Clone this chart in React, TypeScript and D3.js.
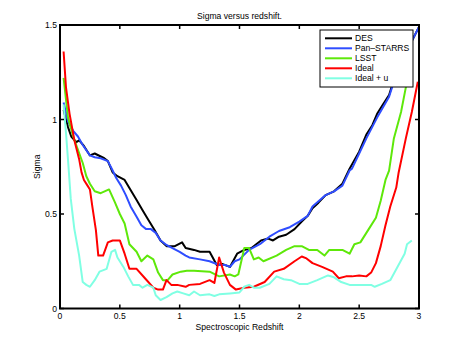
import React from "react";
import * as d3 from "d3";

// [redshift, sigma] pairs
const des: [number, number][] = [
  [0.03, 1.05], [0.067, 0.96], [0.094, 0.91], [0.136, 0.88], [0.16, 0.89], [0.2, 0.86],
  [0.25, 0.81], [0.29, 0.82], [0.37, 0.795], [0.4, 0.78], [0.44, 0.72], [0.48, 0.7],
  [0.54, 0.68], [0.58, 0.637], [0.64, 0.574], [0.69, 0.52], [0.73, 0.477], [0.79, 0.415],
  [0.84, 0.36], [0.89, 0.33], [0.96, 0.33], [1.02, 0.35], [1.05, 0.32], [1.12, 0.31],
  [1.17, 0.3], [1.25, 0.3], [1.31, 0.23], [1.36, 0.235], [1.42, 0.22], [1.48, 0.29],
  [1.54, 0.31], [1.6, 0.32], [1.68, 0.36], [1.74, 0.37], [1.78, 0.36], [1.83, 0.38],
  [1.89, 0.39], [1.96, 0.42], [2.02, 0.46], [2.07, 0.49], [2.11, 0.53], [2.16, 0.56],
  [2.22, 0.6], [2.29, 0.62], [2.36, 0.66], [2.42, 0.74], [2.5, 0.83], [2.56, 0.92],
  [2.61, 0.97], [2.65, 1.03], [2.7, 1.08], [2.75, 1.13], [2.79, 1.21], [2.83, 1.29],
  [2.88, 1.34], [2.92, 1.39], [2.96, 1.44], [3.0, 1.49],
];
const panStarrs: [number, number][] = [
  [0.03, 1.09], [0.067, 0.99], [0.11, 0.94], [0.15, 0.91], [0.19, 0.865], [0.25, 0.81],
  [0.29, 0.8], [0.34, 0.795], [0.4, 0.78], [0.44, 0.73], [0.47, 0.69], [0.51, 0.65],
  [0.55, 0.6], [0.59, 0.54], [0.64, 0.486], [0.68, 0.44], [0.72, 0.42], [0.76, 0.42],
  [0.8, 0.4], [0.84, 0.36], [0.89, 0.336], [0.94, 0.32], [1.0, 0.3], [1.05, 0.28],
  [1.08, 0.27], [1.17, 0.26], [1.25, 0.25], [1.33, 0.23], [1.38, 0.23], [1.42, 0.22],
  [1.46, 0.25], [1.5, 0.26], [1.58, 0.31], [1.67, 0.34], [1.75, 0.38], [1.83, 0.41],
  [1.92, 0.43], [2.0, 0.46], [2.07, 0.49], [2.11, 0.54], [2.22, 0.6], [2.29, 0.62],
  [2.36, 0.65], [2.42, 0.73], [2.44, 0.74], [2.5, 0.82], [2.56, 0.9], [2.65, 1.01],
  [2.75, 1.12], [2.79, 1.2], [2.83, 1.29], [2.92, 1.39], [3.0, 1.49],
];
const lsst: [number, number][] = [
  [0.03, 1.22], [0.067, 1.01], [0.11, 0.91], [0.15, 0.84], [0.19, 0.77], [0.22, 0.7],
  [0.25, 0.66], [0.29, 0.62], [0.34, 0.61], [0.41, 0.63], [0.46, 0.56], [0.5, 0.5],
  [0.54, 0.45], [0.58, 0.34], [0.64, 0.3], [0.68, 0.25], [0.73, 0.28], [0.78, 0.26],
  [0.82, 0.19], [0.86, 0.15], [0.9, 0.15], [0.94, 0.18], [1.01, 0.195], [1.06, 0.2],
  [1.12, 0.2], [1.25, 0.195], [1.33, 0.17], [1.42, 0.18], [1.46, 0.17], [1.49, 0.18],
  [1.54, 0.32], [1.58, 0.32], [1.62, 0.26], [1.66, 0.27], [1.7, 0.25], [1.81, 0.28],
  [1.89, 0.31], [1.96, 0.33], [2.02, 0.33], [2.08, 0.31], [2.15, 0.31], [2.21, 0.28],
  [2.25, 0.31], [2.36, 0.31], [2.42, 0.29], [2.46, 0.34], [2.51, 0.35], [2.58, 0.42],
  [2.64, 0.48], [2.68, 0.57], [2.72, 0.68], [2.75, 0.73], [2.79, 0.9], [2.85, 1.04],
  [2.89, 1.17], [2.93, 1.23],
];
const ideal: [number, number][] = [
  [0.03, 1.36], [0.05, 1.17], [0.08, 1.03], [0.12, 0.89], [0.16, 0.79], [0.18, 0.72],
  [0.2, 0.68], [0.23, 0.65], [0.25, 0.63], [0.27, 0.54], [0.3, 0.415], [0.32, 0.28],
  [0.36, 0.28], [0.4, 0.35], [0.44, 0.36], [0.5, 0.36], [0.54, 0.29], [0.58, 0.21],
  [0.64, 0.21], [0.71, 0.16], [0.78, 0.11], [0.82, 0.1], [0.86, 0.1], [0.89, 0.15],
  [0.93, 0.125], [0.98, 0.125], [1.05, 0.115], [1.08, 0.125], [1.17, 0.13], [1.25, 0.15],
  [1.29, 0.135], [1.33, 0.27], [1.37, 0.19], [1.42, 0.125], [1.47, 0.1], [1.54, 0.11],
  [1.62, 0.115], [1.71, 0.14], [1.79, 0.195], [1.87, 0.21], [1.96, 0.25], [2.02, 0.275],
  [2.06, 0.265], [2.11, 0.24], [2.19, 0.22], [2.28, 0.195], [2.33, 0.16], [2.39, 0.17],
  [2.44, 0.17], [2.5, 0.175], [2.56, 0.17], [2.6, 0.19], [2.64, 0.24], [2.68, 0.33],
  [2.72, 0.44], [2.76, 0.54], [2.81, 0.64], [2.83, 0.72], [2.89, 0.9], [2.94, 1.04],
  [2.99, 1.2],
];
const idealU: [number, number][] = [
  [0.03, 1.08], [0.05, 0.93], [0.07, 0.76], [0.09, 0.58], [0.12, 0.42], [0.16, 0.28],
  [0.19, 0.14], [0.22, 0.125], [0.25, 0.115], [0.29, 0.15], [0.33, 0.195], [0.39, 0.21],
  [0.43, 0.3], [0.46, 0.31], [0.48, 0.27], [0.53, 0.22], [0.57, 0.17], [0.61, 0.125],
  [0.66, 0.125], [0.69, 0.11], [0.73, 0.125], [0.78, 0.11], [0.8, 0.07], [0.84, 0.045],
  [0.89, 0.06], [0.94, 0.08], [0.98, 0.09], [1.03, 0.08], [1.08, 0.07], [1.12, 0.09],
  [1.17, 0.07], [1.25, 0.075], [1.29, 0.066], [1.33, 0.075], [1.42, 0.08], [1.5, 0.085],
  [1.54, 0.115], [1.58, 0.125], [1.62, 0.11], [1.67, 0.11], [1.75, 0.13], [1.81, 0.17],
  [1.87, 0.155], [1.93, 0.15], [2.0, 0.13], [2.07, 0.13], [2.15, 0.15], [2.24, 0.175],
  [2.29, 0.165], [2.35, 0.14], [2.42, 0.125], [2.5, 0.125], [2.6, 0.125], [2.63, 0.115],
  [2.69, 0.13], [2.76, 0.15], [2.82, 0.22], [2.88, 0.29], [2.9, 0.34], [2.94, 0.36],
];

const seriesNames = ["DES", "Pan\u2013STARRS", "LSST", "Ideal", "Ideal + u"];
const seriesData = [des, panStarrs, lsst, ideal, idealU];
const seriesColors = ["#000000", "#2f4dff", "#5ee80a", "#ff0000", "#80ffe3"];
const xTicks = [0, 0.5, 1, 1.5, 2, 2.5, 3];
const yTicks = [0, 0.5, 1, 1.5];

const W = 463;
const H = 348;
const margin = { top: 25, right: 44, bottom: 39.5, left: 60 };
const font = "'Liberation Sans', Arial, sans-serif";
const fs = 8.6;

export default function App() {
  const x = d3.scaleLinear().domain([0, 3]).range([margin.left, W - margin.right]);
  const y = d3.scaleLinear().domain([0, 1.5]).range([H - margin.bottom, margin.top]);
  const line = d3
    .line<[number, number]>()
    .x((d) => x(d[0]))
    .y((d) => y(d[1]));

  const x0 = x(0), x1 = x(3), y0 = y(0), y1 = y(1.5);
  const tk = 4;

  return (
    <svg
      width={W}
      height={H}
      style={{ position: "absolute", left: 0, top: 0, background: "#fff" }}
      fontFamily={font}
    >
      <rect x={0} y={0} width={W} height={H} fill="#fff" />
      <defs>
        <clipPath id="plot">
          <rect x={x0} y={y1} width={x1 - x0} height={y0 - y1} />
        </clipPath>
      </defs>

      {/* data lines */}
      <g clipPath="url(#plot)">
        {seriesData.map((d, i) => (
          <path
            key={seriesNames[i]}
            d={line(d) || ""}
            fill="none"
            stroke={seriesColors[i]}
            strokeWidth={2}
            strokeLinejoin="round"
          />
        ))}
      </g>

      {/* ticks inside, on all four sides */}
      <g stroke="#000" strokeWidth={1.5}>
        {xTicks.map((t) => (
          <g key={"xt" + t}>
            <line x1={x(t)} x2={x(t)} y1={y0} y2={y0 - tk} />
            <line x1={x(t)} x2={x(t)} y1={y1} y2={y1 + tk} />
          </g>
        ))}
        {yTicks.map((t) => (
          <g key={"yt" + t}>
            <line x1={x0} x2={x0 + tk} y1={y(t)} y2={y(t)} />
            <line x1={x1} x2={x1 - tk} y1={y(t)} y2={y(t)} />
          </g>
        ))}
      </g>

      {/* axes box */}
      <rect x={x0} y={y1} width={x1 - x0} height={y0 - y1} fill="none" stroke="#000" strokeWidth={2} />

      {/* tick labels */}
      <g fontSize={fs} fill="#000">
        {xTicks.map((t) => (
          <text key={"xl" + t} x={x(t)} y={y0 + 10} textAnchor="middle">
            {t}
          </text>
        ))}
        {yTicks.map((t) => (
          <text key={"yl" + t} x={x0 - 3} y={y(t) + 3} textAnchor="end">
            {t}
          </text>
        ))}
      </g>

      {/* title and axis labels */}
      <text x={(x0 + x1) / 2} y={18.5} fontSize={fs} textAnchor="middle">
        Sigma versus redshift.
      </text>
      <text x={(x0 + x1) / 2} y={y0 + 21} fontSize={fs} textAnchor="middle">
        Spectroscopic Redshift
      </text>
      <text
        transform={`translate(${x0 - 20},${(y0 + y1) / 2}) rotate(-90)`}
        fontSize={fs}
        textAnchor="middle"
      >
        Sigma
      </text>

      {/* legend */}
      <g>
        <rect x={320} y={30} width={93} height={57} fill="#fff" stroke="#000" strokeWidth={1} />
        {seriesNames.map((name, i) => {
          const ly = 38.3 + i * 10;
          return (
            <g key={"lg" + name}>
              <line x1={325} x2={352} y1={ly} y2={ly} stroke={seriesColors[i]} strokeWidth={2} />
              <text x={355} y={ly + 3} fontSize={fs}>
                {name}
              </text>
            </g>
          );
        })}
      </g>
    </svg>
  );
}
